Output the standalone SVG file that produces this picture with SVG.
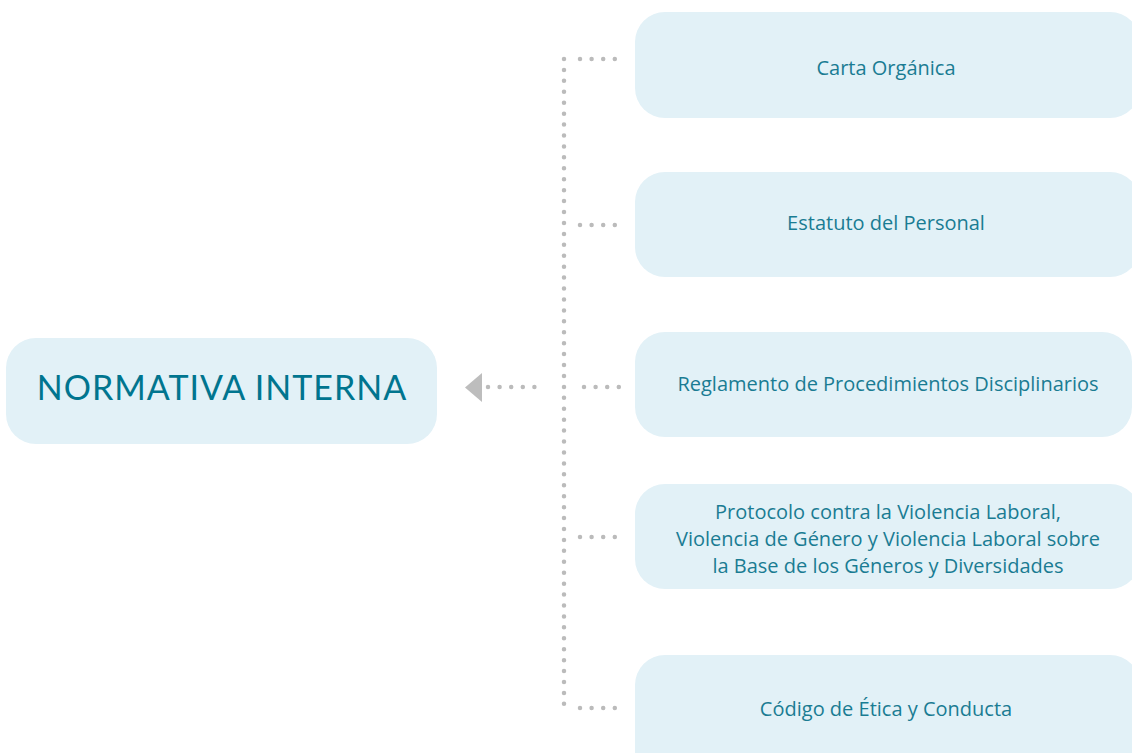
<svg xmlns="http://www.w3.org/2000/svg" width="1132" height="753" viewBox="0 0 1132 753">
<style>
.box{fill:#e2f1f7;}
.lbl{font-family:"Open Sans","Noto Sans",sans-serif;font-size:20px;fill:#1a7c93;text-anchor:middle;}
.title{font-family:Lato,"Open Sans",sans-serif;font-size:34px;fill:#00758f;text-anchor:middle;letter-spacing:1px;}
.dot{fill:none;stroke:#bbbbbb;stroke-width:4.5;stroke-linecap:round;stroke-dasharray:0 11.6;}
.vdot{fill:none;stroke:#bbbbbb;stroke-width:4.5;stroke-linecap:round;stroke-dasharray:0 10.93;}
</style>
<rect width="1132" height="753" fill="#ffffff"/>
<g id="connectors">
<line class="vdot" x1="564" y1="59" x2="564" y2="704"/>
<line class="dot" x1="580" y1="59" x2="616" y2="59"/>
<line class="dot" x1="580" y1="225" x2="616" y2="225"/>
<line class="dot" x1="584" y1="387" x2="620" y2="387"/>
<line class="dot" x1="580" y1="537" x2="616" y2="537"/>
<line class="dot" x1="580" y1="708" x2="616" y2="708"/>
<line class="dot" x1="488" y1="387" x2="546" y2="387"/>
<polygon points="465,387.5 482,373 482,402" fill="#bdbdbd"/>
</g>
<g id="node-normativa">
<rect class="box" x="6" y="338" width="431" height="106" rx="30"/>
<text class="title" x="222" y="400">NORMATIVA INTERNA</text>
</g>
<g id="node-carta">
<rect class="box" x="635" y="12" width="505" height="106" rx="30"/>
<text class="lbl" x="886" y="75">Carta Orgánica</text>
</g>
<g id="node-estatuto">
<rect class="box" x="635" y="172" width="505" height="105" rx="30"/>
<text class="lbl" x="886" y="230">Estatuto del Personal</text>
</g>
<g id="node-reglamento">
<rect class="box" x="635" y="332" width="497" height="105" rx="30"/>
<text class="lbl" x="888" y="391">Reglamento de Procedimientos Disciplinarios</text>
</g>
<g id="node-protocolo">
<rect class="box" x="635" y="484" width="505" height="105" rx="30"/>
<text class="lbl" x="888" y="519">Protocolo contra la Violencia Laboral,</text>
<text class="lbl" x="888" y="546">Violencia de Género y Violencia Laboral sobre</text>
<text class="lbl" x="888" y="573">la Base de los Géneros y Diversidades</text>
</g>
<g id="node-codigo">
<rect class="box" x="635" y="655" width="505" height="130" rx="30"/>
<text class="lbl" x="886" y="716">Código de Ética y Conducta</text>
</g>
</svg>
